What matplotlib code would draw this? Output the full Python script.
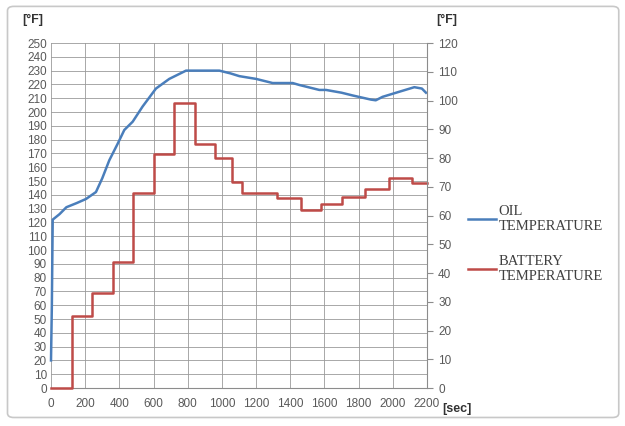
import numpy as np
import matplotlib
matplotlib.use("Agg")
import matplotlib.pyplot as plt
from matplotlib.patches import FancyBboxPatch

# oil temperature, left axis [°F]
oil_sec = [0, 5, 10, 50, 90, 150, 205, 263, 300, 341, 390, 429, 478, 536,
           614, 692, 790, 880, 985, 1050, 1102, 1200, 1297, 1414, 1453,
           1570, 1609, 1700, 1765, 1872, 1900, 1940, 2038, 2126, 2170, 2194]
oil_temp = [20, 60, 122, 126, 131, 134, 137, 142, 152, 165, 177, 187, 193,
            204, 217, 224, 230, 230, 230, 228, 226, 224, 221, 221, 219.6,
            216, 216, 214, 212, 209, 208.5, 211, 214.7, 218, 217, 214]

# battery temperature, right axis [°F], step edges
bat_edges = [0, 120, 240, 360, 480, 600, 720, 840, 960, 1060, 1120, 1320,
             1460, 1580, 1700, 1840, 1980, 2110, 2200]
bat_temp = [0, 25, 33, 44, 68, 81.4, 99, 85, 80, 71.5, 68, 66, 61.8, 64,
            66.5, 69.2, 73, 71.4]

left_ticks = np.arange(0, 251, 10)
right_ticks = np.arange(0, 121, 10)
x_ticks = np.arange(0, 2201, 200)

blue = "#4a7ebb"
red = "#be4b48"
grey_txt = "#595959"

plt.rcParams['font.family'] = ['Liberation Sans', 'DejaVu Sans']

fig = plt.figure(figsize=(6.25, 4.26), dpi=100)
fig.patches.append(FancyBboxPatch((0.012, 0.02), 0.978, 0.965,
                                  boxstyle="round,pad=0,rounding_size=0.01",
                                  transform=fig.transFigure, fill=False,
                                  edgecolor="#c8c8c8", linewidth=1.2))

ax = fig.add_axes([0.0816, 0.0892, 0.6016, 0.8098])
ax2 = ax.twinx()

ax.plot(oil_sec, oil_temp, color=blue, lw=1.8, label="OIL\nTEMPERATURE",
        clip_on=False, zorder=3)
bat_y = bat_temp + [bat_temp[-1]]
ax2.step(bat_edges, bat_y, where="post", color=red, lw=1.8,
         label="BATTERY\nTEMPERATURE", clip_on=False)

ax.set_xlim(0, 2200)
ax.set_ylim(0, 250)
ax2.set_ylim(0, 120)
ax.set_xticks(x_ticks)
ax.set_yticks(left_ticks)
ax2.set_yticks(right_ticks)

ax.grid(True, color="#9a9a9a", lw=0.6)
ax.set_axisbelow(True)
for s in ["top", "right", "left"]:
    ax.spines[s].set_visible(False)
ax.spines["bottom"].set_color("#8c8c8c")
for s in ["top", "left", "bottom"]:
    ax2.spines[s].set_visible(False)
ax2.spines["right"].set_color("#8c8c8c")

ax.tick_params(axis="both", length=0, labelsize=8.5, labelcolor=grey_txt,
               pad=7)
ax.tick_params(axis="y", pad=3)
ax2.tick_params(axis="y", length=4, color="#8c8c8c", labelsize=8.5,
                labelcolor=grey_txt, pad=4)

fig.text(0.035, 0.945, "[°F]", fontsize=9, fontweight="bold", color="#333333")
fig.text(0.698, 0.945, "[°F]", fontsize=9, fontweight="bold", color="#333333")
fig.text(0.708, 0.034, "[sec]", fontsize=9, fontweight="bold", color="#333333")

h1, l1 = ax.get_legend_handles_labels()
h2, l2 = ax2.get_legend_handles_labels()
fig.legend(h1 + h2, l1 + l2, loc="upper left", bbox_to_anchor=(0.728, 0.55),
           frameon=False, prop={"family": "Liberation Serif", "size": 10.5},
           handlelength=1.9, handletextpad=0.2, labelspacing=1.5,
           labelcolor="#404040")

fig.savefig("out.png", dpi=100)
